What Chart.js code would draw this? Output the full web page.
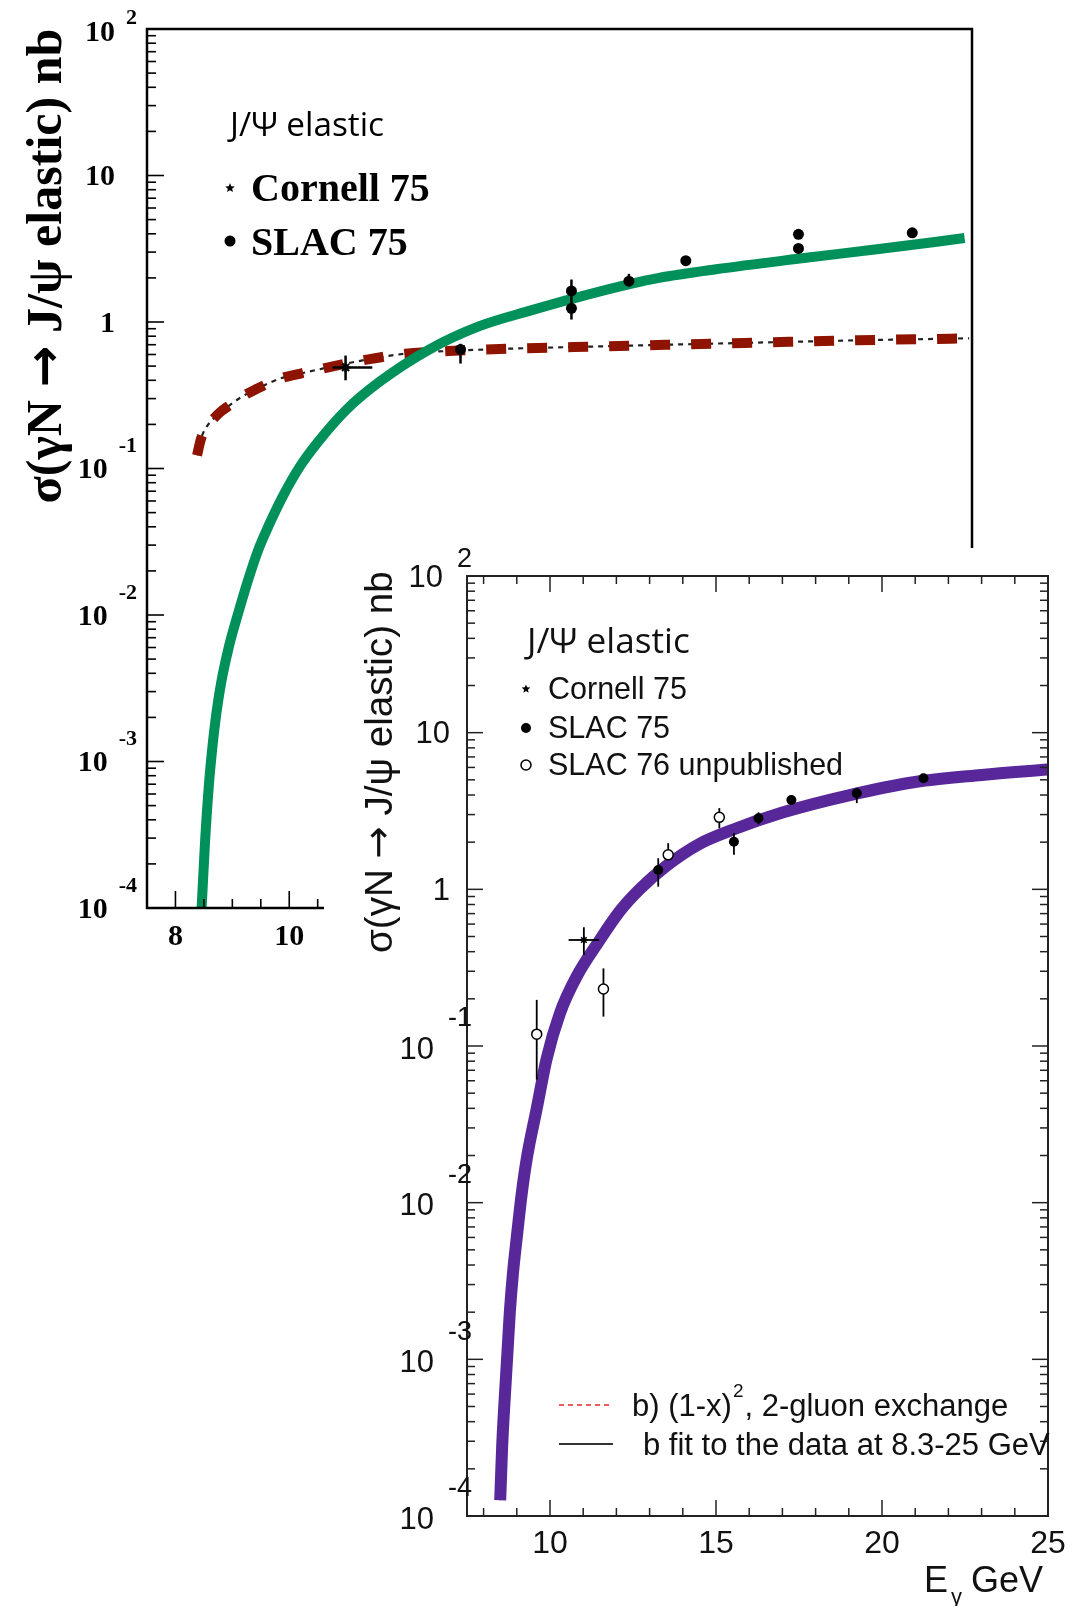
<!DOCTYPE html>
<html>
<head>
<meta charset="utf-8">
<script src="https://cdn.jsdelivr.net/npm/chart.js@4.4.1/dist/chart.umd.min.js"></script>
<style>
html,body{margin:0;padding:0;background:#fff;}
#wrap{position:relative;width:1090px;height:1606px;overflow:hidden;background:#fff;}
#backCanvas{position:absolute;left:0;top:0;}
#insetCanvas{position:absolute;left:324px;top:548px;background:#fff;}
</style>
</head>
<body>
<div id="wrap">
  <canvas id="backCanvas" width="1090" height="960"></canvas>
  <canvas id="insetCanvas" width="766" height="1058"></canvas>
</div>
<script>
// ---- back panel : old curves + Cornell 75 / SLAC 75 ----
var backGreenE = [8.46, 8.52, 8.59, 8.65, 8.71, 8.8, 8.95, 9.1, 9.27, 9.45, 9.65, 9.9, 10.2, 10.5, 11.0, 11.58, 12.45, 13.33, 14.25, 15.0, 16.0, 16.5, 17.5, 18.9, 20.4, 21.87];
var backGreenSigma = [0.0001, 0.000282, 0.000708, 0.00126, 0.002, 0.00339, 0.00631, 0.0102, 0.017, 0.0275, 0.0417, 0.0661, 0.105, 0.151, 0.251, 0.389, 0.646, 0.933, 1.2, 1.45, 1.82, 2.0, 2.29, 2.69, 3.16, 3.74];

var backRedE = [8.38, 8.45, 8.545, 8.65, 8.8, 8.95, 9.157, 9.4, 9.83, 10.2, 10.58, 11.29, 12.04, 12.8, 14, 15, 16, 17, 18, 19, 20, 21, 21.95];
var backRedSigma = [0.123, 0.16, 0.192, 0.215, 0.245, 0.27, 0.307, 0.345, 0.41, 0.445, 0.48, 0.547, 0.608, 0.634, 0.66, 0.675, 0.69, 0.705, 0.72, 0.735, 0.75, 0.762, 0.774];

var backCornellE = [10.99];
var backCornellSigma = [0.49];
var backCornellLo = [0.40];
var backCornellHi = [0.59];
var backCornellELo = [10.76];
var backCornellEHi = [11.46];

var backSlacE = [13.01, 14.96, 14.96, 15.97, 16.97, 18.95, 18.95, 20.95];
var backSlacSigma = [0.65, 1.63, 1.24, 1.90, 2.62, 3.97, 3.18, 4.06];
var backSlacLo = [0.52, 1.04, 1.24, 1.85, 2.48, 3.97, 3.18, 4.06];
var backSlacHi = [0.71, 1.95, 1.24, 2.13, 2.75, 3.97, 3.18, 4.06];

var backYTickExp = [-4, -3, -2, -1, 0, 1, 2];
var backXTickLabels = [8, 10];

// ---- inset panel : fit b) + Cornell 75 / SLAC 75 / SLAC 76 ----
var insetFitE = [8.50, 8.56, 8.65, 8.72, 8.79, 8.88, 9.0, 9.15, 9.3, 9.6, 9.9, 10.3, 10.8, 11.5, 12.1, 12.7, 13.5, 14.5, 15.5, 17.0, 19.0, 21.0, 23.0, 25.0];
var insetFitSigma = [0.000126, 0.000282, 0.000631, 0.00112, 0.002, 0.00347, 0.00603, 0.0115, 0.0191, 0.0398, 0.0832, 0.162, 0.277, 0.475, 0.724, 1.0, 1.41, 1.95, 2.40, 3.09, 3.98, 4.84, 5.37, 5.82];

var insetCornellE = [11.02];
var insetCornellSigma = [0.475];
var insetCornellLo = [0.381];
var insetCornellHi = [0.573];
var insetCornellELo = [10.56];
var insetCornellEHi = [11.48];

var insetSlac75E = [13.26, 15.54, 16.28, 17.27, 19.24, 21.25];
var insetSlac75Sigma = [1.33, 2.01, 2.84, 3.72, 4.1, 5.12];
var insetSlac75Lo = [1.04, 1.66, 2.6, 3.5, 3.55, 4.95];
var insetSlac75Hi = [1.58, 2.29, 3.1, 3.95, 4.45, 5.3];

var insetSlac76E = [9.60, 11.61, 13.56, 15.10];
var insetSlac76Sigma = [0.119, 0.231, 1.66, 2.88];
var insetSlac76Lo = [0.061, 0.154, 1.54, 2.45];
var insetSlac76Hi = [0.197, 0.313, 1.97, 3.3];

var insetYTickExp = [-4, -3, -2, -1, 0, 1, 2];
var insetXTickLabels = [10, 15, 20, 25];

var INSET_X = 324;
var INSET_Y = 548;

function pairs(xs, ys){
  var out = [];
  for (var i = 0; i < xs.length; i++){
    out.push({x: xs[i], y: ys[i]});
  }
  return out;
}

function line(ctx, x1, y1, x2, y2){
  ctx.beginPath();
  ctx.moveTo(x1, y1);
  ctx.lineTo(x2, y2);
  ctx.stroke();
}

// font size that makes text fill a given width
function fitSize(ctx, text, style, family, width){
  ctx.font = style + " 100px " + family;
  return 100 * width / ctx.measureText(text).width;
}

// text made of pieces in different fonts, scaled to a total width, drawn centred
// parts: [text, style, family]
function drawPieces(ctx, parts, cx, cy, width, rotate){
  var total = 0;
  var i;
  for (i = 0; i < parts.length; i++){
    ctx.font = parts[i][1] + " 100px " + parts[i][2];
    total += ctx.measureText(parts[i][0]).width;
  }
  var size = 100 * width / total;
  ctx.save();
  ctx.translate(cx, cy);
  if (rotate) ctx.rotate(-Math.PI/2);
  ctx.textAlign = "left";
  ctx.textBaseline = "middle";
  var x = -width/2;
  for (i = 0; i < parts.length; i++){
    ctx.font = parts[i][1] + " " + size.toFixed(1) + "px " + parts[i][2];
    ctx.fillText(parts[i][0], x, 0);
    x += ctx.measureText(parts[i][0]).width;
  }
  ctx.restore();
}

function drawStar(ctx, x, y, r){
  ctx.save();
  ctx.fillStyle = "#000";
  ctx.beginPath();
  for (var i = 0; i < 10; i++){
    var a = -Math.PI/2 + i*Math.PI/5;
    var rr = (i % 2 == 0) ? r : r*0.45;
    if (i == 0) ctx.moveTo(x + rr*Math.cos(a), y + rr*Math.sin(a));
    else ctx.lineTo(x + rr*Math.cos(a), y + rr*Math.sin(a));
  }
  ctx.closePath();
  ctx.fill();
  ctx.restore();
}

function drawDot(ctx, x, y, r, open){
  ctx.save();
  ctx.beginPath();
  ctx.arc(x, y, r, 0, Math.PI*2);
  if (open){
    ctx.fillStyle = "#fff";
    ctx.fill();
    ctx.strokeStyle = "#000";
    ctx.lineWidth = 1.5;
    ctx.stroke();
  } else {
    ctx.fillStyle = "#000";
    ctx.fill();
  }
  ctx.restore();
}

// 10^exp label with a raised exponent
function expLabel(ctx, exp, yTick, c){
  ctx.textBaseline = "middle";
  if (exp == 0 || exp == 1){
    ctx.font = c.font;
    ctx.textAlign = "right";
    ctx.fillText(exp == 0 ? "1" : "10", c.plainRight, yTick + c.plainDy);
    return;
  }
  var sup = String(exp);
  ctx.font = c.supFont;
  ctx.textAlign = "right";
  var supDy = exp > 0 ? c.supDyPos : c.supDyNeg;
  ctx.fillText(sup, c.supRight, yTick + supDy);
  var supW = ctx.measureText(sup).width;
  ctx.font = c.font;
  ctx.fillText("10", c.supRight - supW - c.gap, yTick + (exp > 0 ? c.baseDyPos : c.baseDyNeg));
}

function logTicks(ctx, yScale, x, dir, majorLen, minorLen, exps){
  for (var k = 0; k < exps.length; k++){
    var base = Math.pow(10, exps[k]);
    var py = yScale.getPixelForValue(base);
    line(ctx, x, py, x + dir*majorLen, py);
    if (k < exps.length - 1){
      for (var m = 2; m <= 9; m++){
        var p = yScale.getPixelForValue(m*base);
        line(ctx, x, p, x + dir*minorLen, p);
      }
    }
  }
}

var errorBarPlugin = {
  id: "errorBars",
  afterDatasetsDraw: function(chart){
    var ctx = chart.ctx;
    var xs = chart.scales.x;
    var ys = chart.scales.y;
    chart.data.datasets.forEach(function(ds){
      if (!ds.errLo) return;
      ctx.save();
      ctx.strokeStyle = "#000";
      ctx.lineWidth = ds.errWidth || 2;
      var gap = ds.errGap || 0;
      for (var i = 0; i < ds.data.length; i++){
        var px = xs.getPixelForValue(ds.data[i].x);
        var py = ys.getPixelForValue(ds.data[i].y);
        var lo = ys.getPixelForValue(ds.errLo[i]);
        var hi = ys.getPixelForValue(ds.errHi[i]);
        if (lo > py + gap) line(ctx, px, py + gap, px, lo);
        if (hi < py - gap) line(ctx, px, hi, px, py - gap);
        if (ds.errXLo){
          line(ctx, xs.getPixelForValue(ds.errXLo[i]), py, xs.getPixelForValue(ds.errXHi[i]), py);
        }
      }
      ctx.restore();
    });
  }
};

var titleText = [["\u03c3(\u03b3N ", "", ""], ["\u2192", "", "'DejaVu Sans'"], [" J/\u03c8 elastic) nb", "", ""]];

function titleParts(style, family){
  var parts = [];
  for (var i = 0; i < titleText.length; i++){
    parts.push([titleText[i][0], style, titleText[i][2] || family]);
  }
  return parts;
}

var backAxesPlugin = {
  id: "backAxes",
  afterDraw: function(chart){
    var ctx = chart.ctx;
    var a = chart.chartArea;
    var xs = chart.scales.x;
    var ys = chart.scales.y;
    ctx.save();
    ctx.strokeStyle = "#000";
    ctx.lineWidth = 2.5;
    ctx.strokeRect(a.left, a.top, a.right - a.left, a.bottom - a.top);

    ctx.lineWidth = 1.6;
    logTicks(ctx, ys, a.left, 1, 17, 9, backYTickExp);
    for (var v = 8; v < 22; v += 0.5){
      var px = xs.getPixelForValue(v);
      line(ctx, px, a.bottom, px, a.bottom - (v % 2 == 0 ? 17 : 9));
    }

    ctx.fillStyle = "#000";
    var labelCfg = {
      font: "bold 30px 'Liberation Serif'",
      supFont: "bold 22px 'Liberation Serif'",
      plainRight: 115, plainDy: 2,
      supRight: 137, gap: 11,
      supDyPos: -11, supDyNeg: -22,
      baseDyPos: 4, baseDyNeg: 2
    };
    for (var k = 0; k < backYTickExp.length; k++){
      expLabel(ctx, backYTickExp[k], ys.getPixelForValue(Math.pow(10, backYTickExp[k])), labelCfg);
    }

    ctx.font = "bold 30px 'Liberation Serif'";
    ctx.textAlign = "center";
    ctx.textBaseline = "middle";
    for (var j = 0; j < backXTickLabels.length; j++){
      ctx.fillText(String(backXTickLabels[j]), xs.getPixelForValue(backXTickLabels[j]), 937);
    }

    // axis title
    drawPieces(ctx, titleParts("bold", "'Liberation Serif'"), 48, 266, 475, true);

    // legend
    ctx.textAlign = "left";
    ctx.textBaseline = "middle";
    var ls = fitSize(ctx, "J/\u03a8 elastic", "normal", "'Open Sans'", 154);
    ctx.font = ls.toFixed(1) + "px 'Open Sans'";
    ctx.fillText("J/\u03a8 elastic", 230, 127);
    ctx.font = "bold 40px 'Liberation Serif'";
    ctx.fillText("Cornell 75", 251, 191);
    ctx.fillText("SLAC 75", 251, 245);
    drawStar(ctx, 230, 188, 5);
    drawDot(ctx, 230, 241, 5.5, false);
    ctx.restore();
  }
};

var insetAxesPlugin = {
  id: "insetAxes",
  afterDraw: function(chart){
    var ctx = chart.ctx;
    var a = chart.chartArea;
    var xs = chart.scales.x;
    var ys = chart.scales.y;
    ctx.save();
    ctx.strokeStyle = "#222";
    ctx.lineWidth = 2;
    ctx.strokeRect(a.left, a.top, a.right - a.left, a.bottom - a.top);

    ctx.lineWidth = 1.5;
    logTicks(ctx, ys, a.left, 1, 16, 8, insetYTickExp);
    logTicks(ctx, ys, a.right, -1, 16, 8, insetYTickExp);
    for (var v = 8; v < 25; v += 1){
      var px = xs.getPixelForValue(v);
      var len = (v % 5 == 0) ? 16 : 8;
      line(ctx, px, a.bottom, px, a.bottom - len);
      line(ctx, px, a.top, px, a.top + len);
    }

    // everything below in page coordinates
    ctx.translate(-INSET_X, -INSET_Y);
    ctx.fillStyle = "#111";
    var labelCfg = {
      font: "31px 'Liberation Sans'",
      supFont: "27px 'Liberation Sans'",
      plainRight: 450, plainDy: 2,
      supRight: 472, gap: 14,
      supDyPos: -16, supDyNeg: -27,
      baseDyPos: 2, baseDyNeg: 4
    };
    for (var k = 0; k < insetYTickExp.length; k++){
      expLabel(ctx, insetYTickExp[k], ys.getPixelForValue(Math.pow(10, insetYTickExp[k])) + INSET_Y, labelCfg);
    }

    ctx.font = "32px 'Liberation Sans'";
    ctx.textAlign = "center";
    ctx.textBaseline = "middle";
    for (var j = 0; j < insetXTickLabels.length; j++){
      ctx.fillText(String(insetXTickLabels[j]), xs.getPixelForValue(insetXTickLabels[j]) + INSET_X, 1544);
    }

    // x title  E_gamma GeV
    ctx.textAlign = "left";
    ctx.font = "36px 'Liberation Sans'";
    ctx.fillText("E", 924, 1582);
    ctx.fillText("GeV", 971, 1582);
    ctx.font = "22px 'Liberation Sans'";
    ctx.fillText("\u03b3", 951, 1598);

    // y title
    drawPieces(ctx, titleParts("normal", "'Liberation Sans'"), 381, 762, 382, true);

    // upper legend
    ctx.textAlign = "left";
    ctx.textBaseline = "middle";
    var ls = fitSize(ctx, "J/\u03a8 elastic", "normal", "'Open Sans'", 163);
    ctx.font = ls.toFixed(1) + "px 'Open Sans'";
    ctx.fillText("J/\u03a8 elastic", 527, 643);
    ctx.font = "30.5px 'Liberation Sans'";
    ctx.fillText("Cornell 75", 548, 691);
    ctx.fillText("SLAC 75", 548, 730);
    ctx.fillText("SLAC 76 unpublished", 548, 767);
    drawStar(ctx, 526, 689, 4.5);
    drawDot(ctx, 526, 728, 5, false);
    drawDot(ctx, 526, 765, 5, true);

    // lower legend
    ctx.strokeStyle = "#e8282a";
    ctx.lineWidth = 1.6;
    ctx.setLineDash([5, 4]);
    line(ctx, 559, 1405, 613, 1405);
    ctx.setLineDash([]);
    ctx.strokeStyle = "#333";
    ctx.lineWidth = 2;
    line(ctx, 559, 1444, 613, 1444);
    ctx.fillStyle = "#111";
    ctx.font = "31px 'Liberation Sans'";
    var t1 = "b) (1-x)";
    ctx.fillText(t1, 632, 1407);
    var w1 = ctx.measureText(t1).width;
    ctx.font = "19px 'Liberation Sans'";
    ctx.fillText("2", 632 + w1 + 1, 1392);
    var w2 = ctx.measureText("2").width;
    ctx.font = "31px 'Liberation Sans'";
    ctx.fillText(", 2-gluon exchange", 632 + w1 + w2 + 2, 1407);
    ctx.fillText("b fit to the data at 8.3-25 GeV", 643, 1446);
    ctx.restore();
  }
};

function baseOptions(xmin, xmax, pad){
  return {
    responsive: false,
    animation: false,
    events: [],
    layout: { padding: pad },
    plugins: { legend: { display: false }, tooltip: { enabled: false } },
    scales: {
      x: { type: "linear", min: xmin, max: xmax, display: false },
      y: { type: "logarithmic", min: 0.0001, max: 100, display: false }
    }
  };
}

function showBackChart(){
  var config = {
    type: "line",
    data: {
      datasets: [{
          label: "SLAC 75",
          data: pairs(backSlacE, backSlacSigma),
          showLine: false,
          pointRadius: 5.5,
          pointBackgroundColor: "#000",
          pointBorderWidth: 0,
          errLo: backSlacLo,
          errHi: backSlacHi,
          errWidth: 2.5
        }, {
          label: "Cornell 75",
          data: pairs(backCornellE, backCornellSigma),
          showLine: false,
          pointStyle: "star",
          pointRadius: 5,
          pointBorderColor: "#000",
          pointBorderWidth: 2,
          errLo: backCornellLo,
          errHi: backCornellHi,
          errXLo: backCornellELo,
          errXHi: backCornellEHi,
          errWidth: 2.5
        }, {
          label: "green",
          data: pairs(backGreenE, backGreenSigma),
          borderColor: "#00915a",
          borderWidth: 10,
          pointRadius: 0,
          cubicInterpolationMode: "monotone",
          clip: 0
        }, {
          label: "red dashed",
          data: pairs(backRedE, backRedSigma),
          borderColor: "#8e1300",
          borderWidth: 10,
          borderDash: [20, 21],
          borderCapStyle: "butt",
          pointRadius: 0,
          cubicInterpolationMode: "monotone"
        }, {
          label: "black dotted",
          data: pairs(backRedE, backRedSigma),
          borderColor: "#222",
          borderWidth: 2.2,
          borderDash: [5, 5],
          pointRadius: 0,
          cubicInterpolationMode: "monotone"
        }]
    },
    options: baseOptions(7.5, 22, { left: 147, top: 29, right: 118, bottom: 52 }),
    plugins: [errorBarPlugin, backAxesPlugin]
  };
  new Chart(document.getElementById("backCanvas").getContext("2d"), config);
}

function showInsetChart(){
  var config = {
    type: "line",
    data: {
      datasets: [{
          label: "SLAC 76 unpublished",
          data: pairs(insetSlac76E, insetSlac76Sigma),
          showLine: false,
          pointRadius: 5,
          pointBackgroundColor: "#fff",
          pointBorderColor: "#000",
          pointBorderWidth: 1.5,
          errLo: insetSlac76Lo,
          errHi: insetSlac76Hi,
          errGap: 5,
          errWidth: 1.8
        }, {
          label: "SLAC 75",
          data: pairs(insetSlac75E, insetSlac75Sigma),
          showLine: false,
          pointRadius: 5,
          pointBackgroundColor: "#000",
          pointBorderWidth: 0,
          errLo: insetSlac75Lo,
          errHi: insetSlac75Hi,
          errWidth: 1.8
        }, {
          label: "Cornell 75",
          data: pairs(insetCornellE, insetCornellSigma),
          showLine: false,
          pointStyle: "star",
          pointRadius: 4,
          pointBorderColor: "#000",
          pointBorderWidth: 1.5,
          errLo: insetCornellLo,
          errHi: insetCornellHi,
          errXLo: insetCornellELo,
          errXHi: insetCornellEHi,
          errWidth: 1.8
        }, {
          label: "b fit",
          data: pairs(insetFitE, insetFitSigma),
          borderColor: "#58289b",
          borderWidth: 12,
          pointRadius: 0,
          cubicInterpolationMode: "monotone"
        }, {
          // b) 2-gluon curve, lies under the fit band
          label: "b) (1-x)^2",
          data: pairs(insetFitE, insetFitSigma),
          borderColor: "#e8282a",
          borderWidth: 1.5,
          borderDash: [5, 4],
          pointRadius: 0,
          cubicInterpolationMode: "monotone"
        }]
    },
    options: baseOptions(7.5, 25, { left: 143, top: 28, right: 42, bottom: 90 }),
    plugins: [errorBarPlugin, insetAxesPlugin]
  };
  new Chart(document.getElementById("insetCanvas").getContext("2d"), config);
}

function load(){
  showBackChart();
  showInsetChart();
}

document.addEventListener("DOMContentLoaded", load, false);
</script>
</body>
</html>
